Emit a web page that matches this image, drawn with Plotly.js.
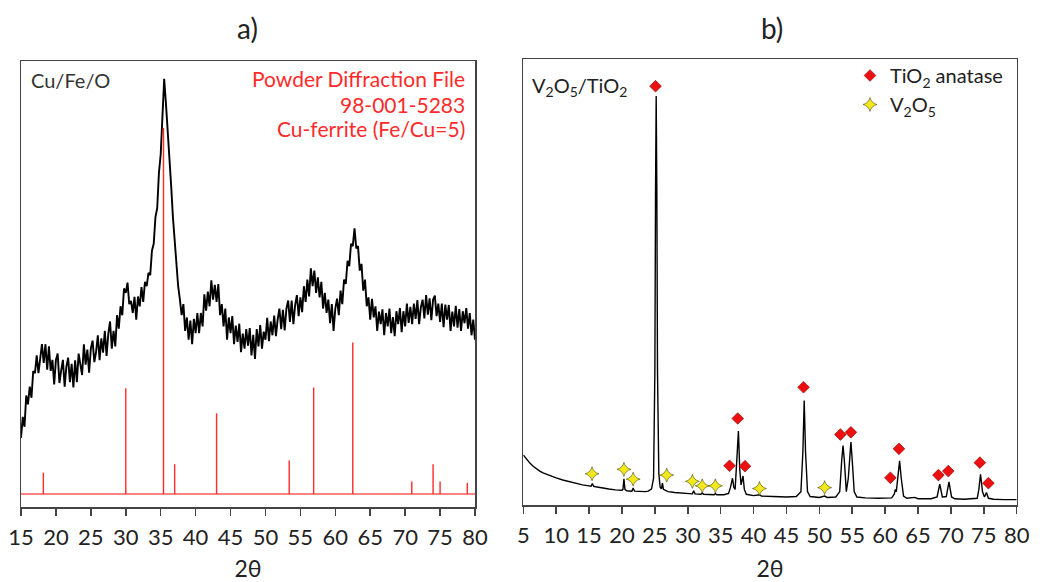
<!DOCTYPE html>
<html><head><meta charset="utf-8">
<script src="https://cdn.plot.ly/plotly-3.0.1.min.js"></script>
<style>html,body{margin:0;padding:0;background:#fff}#c{width:1064px;height:582px}</style>
</head><body><div id="c"></div><script>
// ---------- panel a) Cu/Fe/O ----------
const twoThetaA = [
15.00,15.25,15.50,15.75,16.00,16.25,16.50,16.75,17.00,17.25,17.50,17.75,18.00,18.25,18.50,18.75,
19.00,19.25,19.50,19.75,20.00,20.25,20.50,20.75,21.00,21.25,21.50,21.75,22.00,22.25,22.50,22.75,
23.00,23.25,23.50,23.75,24.00,24.25,24.50,24.75,25.00,25.25,25.50,25.75,26.00,26.25,26.50,26.75,
27.00,27.25,27.50,27.75,28.00,28.25,28.50,28.75,29.00,29.25,29.50,29.75,30.00,30.25,30.50,30.75,
31.00,31.25,31.50,31.75,32.00,32.25,32.50,32.75,33.00,33.25,33.50,33.75,34.00,34.25,34.50,34.75,
35.00,35.25,35.50,35.75,36.00,36.25,36.50,36.75,37.00,37.25,37.50,37.75,38.00,38.25,38.50,38.75,
39.00,39.25,39.50,39.75,40.00,40.25,40.50,40.75,41.00,41.25,41.50,41.75,42.00,42.25,42.50,42.75,
43.00,43.25,43.50,43.75,44.00,44.25,44.50,44.75,45.00,45.25,45.50,45.75,46.00,46.25,46.50,46.75,
47.00,47.25,47.50,47.75,48.00,48.25,48.50,48.75,49.00,49.25,49.50,49.75,50.00,50.25,50.50,50.75,
51.00,51.25,51.50,51.75,52.00,52.25,52.50,52.75,53.00,53.25,53.50,53.75,54.00,54.25,54.50,54.75,
55.00,55.25,55.50,55.75,56.00,56.25,56.50,56.75,57.00,57.25,57.50,57.75,58.00,58.25,58.50,58.75,
59.00,59.25,59.50,59.75,60.00,60.25,60.50,60.75,61.00,61.25,61.50,61.75,62.00,62.25,62.50,62.75,
63.00,63.25,63.50,63.75,64.00,64.25,64.50,64.75,65.00,65.25,65.50,65.75,66.00,66.25,66.50,66.75,
67.00,67.25,67.50,67.75,68.00,68.25,68.50,68.75,69.00,69.25,69.50,69.75,70.00,70.25,70.50,70.75,
71.00,71.25,71.50,71.75,72.00,72.25,72.50,72.75,73.00,73.25,73.50,73.75,74.00,74.25,74.50,74.75,
75.00,75.25,75.50,75.75,76.00,76.25,76.50,76.75,77.00,77.25,77.50,77.75,78.00,78.25,78.50,78.75,
79.00,79.25,79.50,79.75,80.00];
const intensityA = [
15.5,20.2,18.0,25.0,23.0,27.0,24.5,30.5,30.0,34.0,30.0,34.0,36.5,32.3,36.5,30.8,
36.0,30.5,33.0,27.5,33.0,34.4,27.8,30.6,33.0,27.0,31.5,33.5,28.0,32.1,26.8,32.9,
28.0,34.4,31.8,29.6,36.5,31.9,35.3,30.1,35.5,37.3,32.5,34.8,38.5,32.9,37.8,34.6,
39.5,33.9,38.8,41.6,35.5,39.5,36.0,43.0,40.0,45.0,43.0,49.0,48.0,50.3,45.5,46.2,
43.5,47.1,42.0,47.2,45.0,49.3,46.0,50.5,49.5,52.5,52.0,57.5,59.0,65.0,67.0,75.0,
79.0,87.0,96.0,90.5,85.0,77.5,72.0,65.0,59.5,53.0,49.5,46.5,43.0,45.5,39.5,42.5,
37.5,41.8,36.5,42.2,39.0,43.5,39.0,43.5,40.5,47.7,44.0,48.3,45.0,50.8,46.5,49.8,
46.0,50.0,43.0,45.5,40.5,44.5,37.5,42.5,39.0,42.8,36.5,40.7,37.0,41.1,34.7,38.9,
35.5,39.9,36.2,40.1,34.0,38.6,33.2,39.9,36.0,40.8,35.5,39.3,37.5,42.4,37.2,41.6,
38.5,42.9,38.3,42.1,44.5,39.9,44.2,39.6,44.5,46.3,41.5,46.3,41.0,45.3,47.5,42.8,
47.0,43.7,49.5,46.0,51.0,47.2,53.5,49.5,53.0,48.0,51.5,47.0,50.5,44.5,48.0,43.5,
46.5,41.2,45.5,39.5,44.5,46.7,43.0,48.5,45.5,51.0,50.0,55.2,54.0,59.0,58.5,62.5,
58.0,58.5,53.0,54.5,48.5,51.0,45.0,47.0,42.0,46.7,42.5,45.0,39.5,43.8,41.0,44.3,
38.5,43.5,40.5,44.5,39.0,42.6,38.3,43.9,41.0,44.6,39.2,43.9,40.5,45.6,41.3,44.9,
41.0,45.6,42.2,46.4,41.0,44.8,46.5,42.3,47.5,43.1,46.8,41.9,46.5,47.4,42.8,45.6,
41.5,45.6,40.3,45.4,42.0,45.3,39.5,43.8,40.5,45.1,40.2,44.4,39.5,43.9,41.2,44.6,
40.0,43.5,38.5,42.0,37.5];
// reference pattern PDF 98-001-5283 (stick positions and heights)
const refPos    = [18.2, 30.0, 35.4, 37.0, 43.0, 53.4, 56.9, 62.5, 70.95, 74.0, 75.0, 78.9];
const refHeight = [7.7, 26.6, 85.0, 9.6, 21.0, 10.4, 26.8, 36.9, 5.7, 9.6, 5.7, 5.4];
const refBase = 2.9;

// ---------- panel b) V2O5/TiO2 ----------
const twoThetaB = [5.0,5.5,6.0,6.5,7.0,7.5,8.0,9.0,10.0,11.0,12.0,13.0,14.0,15.0,15.3,15.5,15.7,16.0,17.0,18.0,19.0,20.0,20.15,20.3,20.45,20.7,21.5,21.7,21.9,22.5,23.0,23.5,24.0,24.5,24.8,25.0,25.1,25.2,25.3,25.4,25.6,25.8,26.0,26.15,26.3,26.6,27.0,28.0,29.0,30.0,30.7,30.9,31.1,32.0,32.2,32.4,34.0,34.2,34.4,35.5,36.2,36.5,36.8,37.0,37.2,37.45,37.7,37.9,38.1,38.4,38.6,38.9,40.0,40.9,41.2,43.0,45.0,46.5,47.2,47.5,47.7,47.9,48.2,48.6,50.0,50.8,51.2,52.5,53.1,53.4,53.6,53.8,54.1,54.4,54.8,55.0,55.3,55.7,57.0,59.0,61.0,61.4,61.55,61.7,61.95,62.2,62.45,62.8,63.3,64.5,65.0,67.0,67.9,68.3,68.7,69.3,69.7,70.1,70.6,72.0,74.0,74.25,74.5,74.8,75.1,75.4,75.7,76.5,78.0,80.0];
const intensityB = [11.2,10.2,9.4,8.7,8.1,7.6,7.2,6.6,6.1,5.6,5.2,4.8,4.5,4.3,4.2,4.8,4.2,4.1,3.8,3.6,3.4,3.3,3.5,5.9,3.5,3.2,3.1,3.8,3.1,3.0,3.0,3.0,3.1,3.6,6.0,30.0,70.0,91.7,70.0,30.0,7.0,4.0,3.6,4.9,3.5,3.2,3.0,2.8,2.7,2.6,2.5,3.2,2.5,2.4,2.7,2.4,2.3,2.6,2.3,2.3,2.6,4.0,6.0,4.0,3.5,10.0,16.6,8.0,4.5,6.5,3.5,2.4,2.1,2.3,2.0,1.9,1.8,1.9,3.0,12.0,23.4,12.0,3.0,1.9,1.7,2.0,1.7,1.8,3.0,10.0,13.3,10.0,3.0,6.0,14.1,10.0,3.0,1.8,1.6,1.5,1.6,2.5,3.5,3.0,6.0,9.9,6.0,2.0,1.5,1.7,1.4,1.4,1.8,4.7,1.8,1.9,5.2,1.8,1.4,1.3,1.5,3.5,6.9,3.0,1.8,2.8,1.5,1.3,1.2,1.2];
const anataseX = [25.1, 36.35, 37.6, 38.7, 47.6, 53.2, 54.8, 60.8, 62.1, 68.1, 69.6, 74.4, 75.7];
const anataseY = [93.9, 8.8, 19.4, 8.7, 26.4, 15.8, 16.3, 6.1, 12.6, 6.7, 7.6, 9.5, 4.9];
const v2o5X = [15.45, 20.3, 21.7, 26.8, 30.7, 32.2, 34.2, 40.9, 50.8];
const v2o5Y = [7.0, 8.0, 5.8, 6.7, 5.3, 4.3, 4.3, 3.7, 3.9];

const xTicksA = [15,20,25,30,35,40,45,50,55,60,65,70,75,80];
const xTicksB = [5,10,15,20,25,30,35,40,45,50,55,60,65,70,75,80];

// build stick trace from reference arrays
const stickX = [], stickY = [];
refPos.forEach((p, i) => { stickX.push(p, p, null); stickY.push(refBase, refHeight[i], null); });

const FONT = 'Lato, "Open Sans", sans-serif';
const W = 1064, H = 582;
const px = v => v / W, py = v => 1 - v / H;

const traces = [
  {x: twoThetaA, y: intensityA, xaxis: 'x', yaxis: 'y', mode: 'lines',
   line: {color: '#000', width: 1.9}, showlegend: false, hoverinfo: 'skip'},
  {x: [15, 80], y: [refBase, refBase], xaxis: 'x', yaxis: 'y', mode: 'lines',
   line: {color: '#ff5a5a', width: 1.6}, showlegend: false, hoverinfo: 'skip'},
  {x: stickX, y: stickY, xaxis: 'x', yaxis: 'y', mode: 'lines',
   line: {color: '#ff2a2a', width: 1.4}, showlegend: false, hoverinfo: 'skip'},
  {x: twoThetaB, y: intensityB, xaxis: 'x2', yaxis: 'y2', mode: 'lines',
   line: {color: '#000', width: 1.4}, showlegend: false, hoverinfo: 'skip'},
  {x: anataseX, y: anataseY, xaxis: 'x2', yaxis: 'y2', mode: 'markers', name: 'TiO<sub>2</sub> anatase',
   marker: {symbol: 'diamond', size: 9, color: '#ee1010', line: {color: '#7a0000', width: 0.6}}},
  {x: v2o5X, y: v2o5Y, xaxis: 'x2', yaxis: 'y2', mode: 'markers', name: 'V<sub>2</sub>O<sub>5</sub>',
   marker: {symbol: 'star-diamond', size: 10, color: '#f2e81a', line: {color: '#4a4a10', width: 0.6}}}
];

const xCommon = {
  showline: true, mirror: true, linecolor: '#444', linewidth: 1.5,
  ticks: 'outside', ticklen: 7, tickwidth: 1.5, tickcolor: '#444',
  tickmode: 'array', showgrid: false, zeroline: false, ticklabelstandoff: 3,
  tickfont: {family: FONT, size: 22, color: '#222'},
  title: {text: '2θ', font: {family: FONT, size: 23, color: '#222'}, standoff: 14}
};
const yCommon = {
  showline: true, mirror: true, linecolor: '#444', linewidth: 1.5,
  ticks: '', showticklabels: false, showgrid: false, zeroline: false, range: [0, 100]
};

const ann = (text, x, y, xanchor, size, color) => ({
  text, xref: 'paper', yref: 'paper', x: px(x), y: py(y), xanchor, yanchor: 'middle',
  showarrow: false, font: {family: FONT, size, color}
});

const layout = {
  width: W, height: H, margin: {l: 0, r: 0, t: 0, b: 0},
  paper_bgcolor: '#fff', plot_bgcolor: '#fff',
  font: {family: FONT},
  xaxis: Object.assign({}, xCommon, {domain: [px(21), px(475)], range: [15, 80], tickvals: xTicksA, anchor: 'y'}),
  yaxis: Object.assign({}, yCommon, {domain: [1 - 507 / H, 1 - 61 / H], anchor: 'x'}),
  xaxis2: Object.assign({}, xCommon, {domain: [px(523.3), px(1016.7)], range: [5, 80], tickvals: xTicksB, anchor: 'y2'}),
  yaxis2: Object.assign({}, yCommon, {domain: [1 - 505 / H, 1 - 59 / H], anchor: 'x2'}),
  showlegend: true,
  legend: {x: px(850), y: py(56), xanchor: 'left', yanchor: 'top', bgcolor: 'rgba(0,0,0,0)',
           font: {family: FONT, size: 20, color: '#222'}, tracegroupgap: 0, itemwidth: 30},
  annotations: [
    ann('a)', 247, 28, 'center', 28, '#222'),
    ann('b)', 772, 28, 'center', 28, '#222'),
    ann('Cu/Fe/O', 29, 80, 'left', 20, '#333'),
    ann('Powder Diffraction File', 467, 79, 'right', 21, '#ff2a2a'),
    ann('98-001-5283', 467, 104, 'right', 21, '#ff2a2a'),
    ann('Cu-ferrite (Fe/Cu=5)', 467, 128, 'right', 21, '#ff2a2a'),
    ann('V<sub>2</sub>O<sub>5</sub>/TiO<sub>2</sub>', 530, 86, 'left', 20, '#222')
  ]
};

Plotly.newPlot('c', traces, layout, {staticPlot: true, displayModeBar: false});
</script></body></html>
